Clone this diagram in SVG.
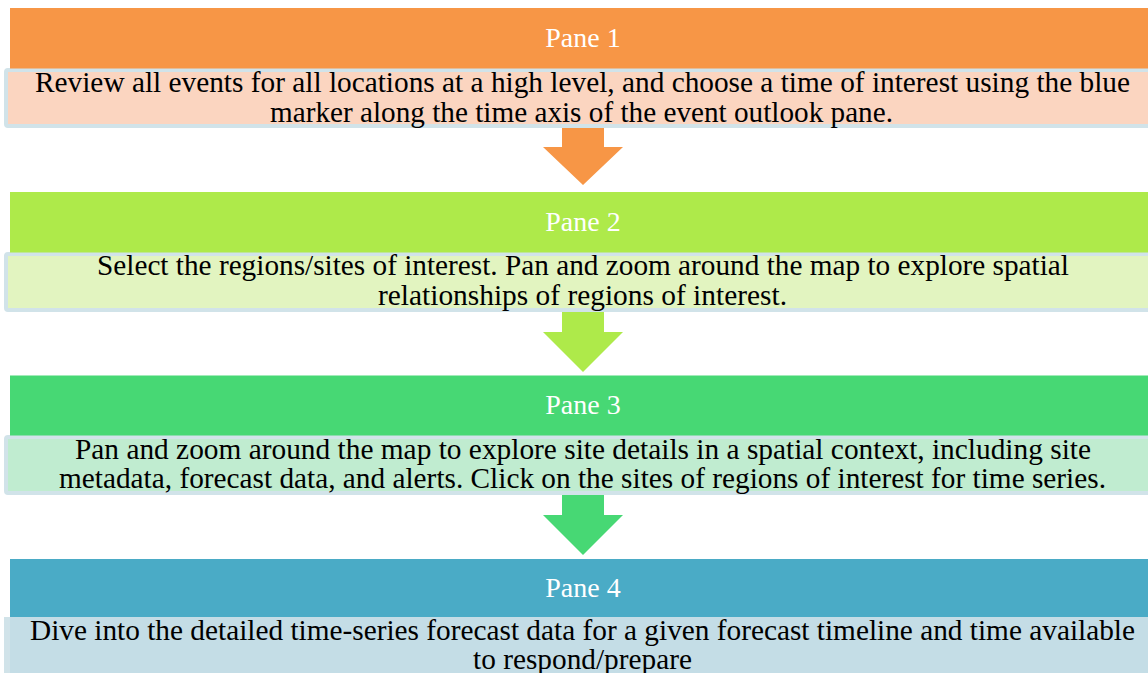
<svg xmlns="http://www.w3.org/2000/svg" width="1148" height="673" viewBox="0 0 1148 673">
<style>
.box{stroke:#d1e3e9;stroke-width:4}
.hd{font-family:"Liberation Serif","Times New Roman",serif;font-size:28px;fill:#ffffff;text-anchor:middle}
.tx{font-family:"Liberation Serif","Times New Roman",serif;font-size:29px;fill:#000000;text-anchor:middle}
</style>
<rect width="1148" height="673" fill="#ffffff"/>
<g id="connectors">
<polygon points="562,128 604,128 604,147 623,147 583,185 543,147 562,147" fill="#f79646"/>
<polygon points="562,312 604,312 604,332 623,332 583,372 543,332 562,332" fill="#aeea4a"/>
<polygon points="562,495 604,495 604,515 623,515 583,555 543,515 562,515" fill="#47d874"/>
</g>
<g id="pane1">
<rect class="box" x="6" y="70" width="1160" height="56" rx="2" fill="#fbd5c0"/>
<rect x="10" y="8" width="1150" height="60.5" fill="#f79646"/>
<text class="hd" x="583" y="47">Pane 1</text>
<text class="tx" x="582.5" y="92" textLength="1095" lengthAdjust="spacingAndGlyphs">Review all events for all locations at a high level, and choose a time of interest using the blue</text>
<text class="tx" x="581.5" y="122" textLength="623" lengthAdjust="spacingAndGlyphs">marker along the time axis of the event outlook pane.</text>
</g>
<g id="pane2">
<rect class="box" x="6" y="254" width="1160" height="56" rx="2" fill="#e2f4c0"/>
<rect x="10" y="192" width="1150" height="60.5" fill="#aeea4a"/>
<text class="hd" x="583" y="231">Pane 2</text>
<text class="tx" x="583" y="275" textLength="972" lengthAdjust="spacingAndGlyphs">Select the regions/sites of interest. Pan and zoom around the map to explore spatial</text>
<text class="tx" x="582.5" y="305" textLength="409" lengthAdjust="spacingAndGlyphs">relationships of regions of interest.</text>
</g>
<g id="pane3">
<rect class="box" x="6" y="437" width="1160" height="56" rx="2" fill="#c0ecd0"/>
<rect x="10" y="375.5" width="1150" height="60" fill="#47d874"/>
<text class="hd" x="583" y="414">Pane 3</text>
<text class="tx" x="583" y="459" textLength="1016" lengthAdjust="spacingAndGlyphs">Pan and zoom around the map to explore site details in a spatial context, including site</text>
<text class="tx" x="582.5" y="488" textLength="1047" lengthAdjust="spacingAndGlyphs">metadata, forecast data, and alerts. Click on the sites of regions of interest for time series.</text>
</g>
<g id="pane4">
<rect x="4" y="617" width="1160" height="70" rx="2" fill="#c4dde6"/>
<rect x="4" y="617" width="6" height="70" fill="#d1e3e9"/>
<rect x="10" y="559" width="1150" height="58" fill="#4aabc6"/>
<text class="hd" x="583" y="597">Pane 4</text>
<text class="tx" x="582.5" y="640" textLength="1105" lengthAdjust="spacingAndGlyphs">Dive into the detailed time-series forecast data for a given forecast timeline and time available</text>
<text class="tx" x="582.5" y="669" textLength="219" lengthAdjust="spacingAndGlyphs">to respond/prepare</text>
</g>
</svg>
